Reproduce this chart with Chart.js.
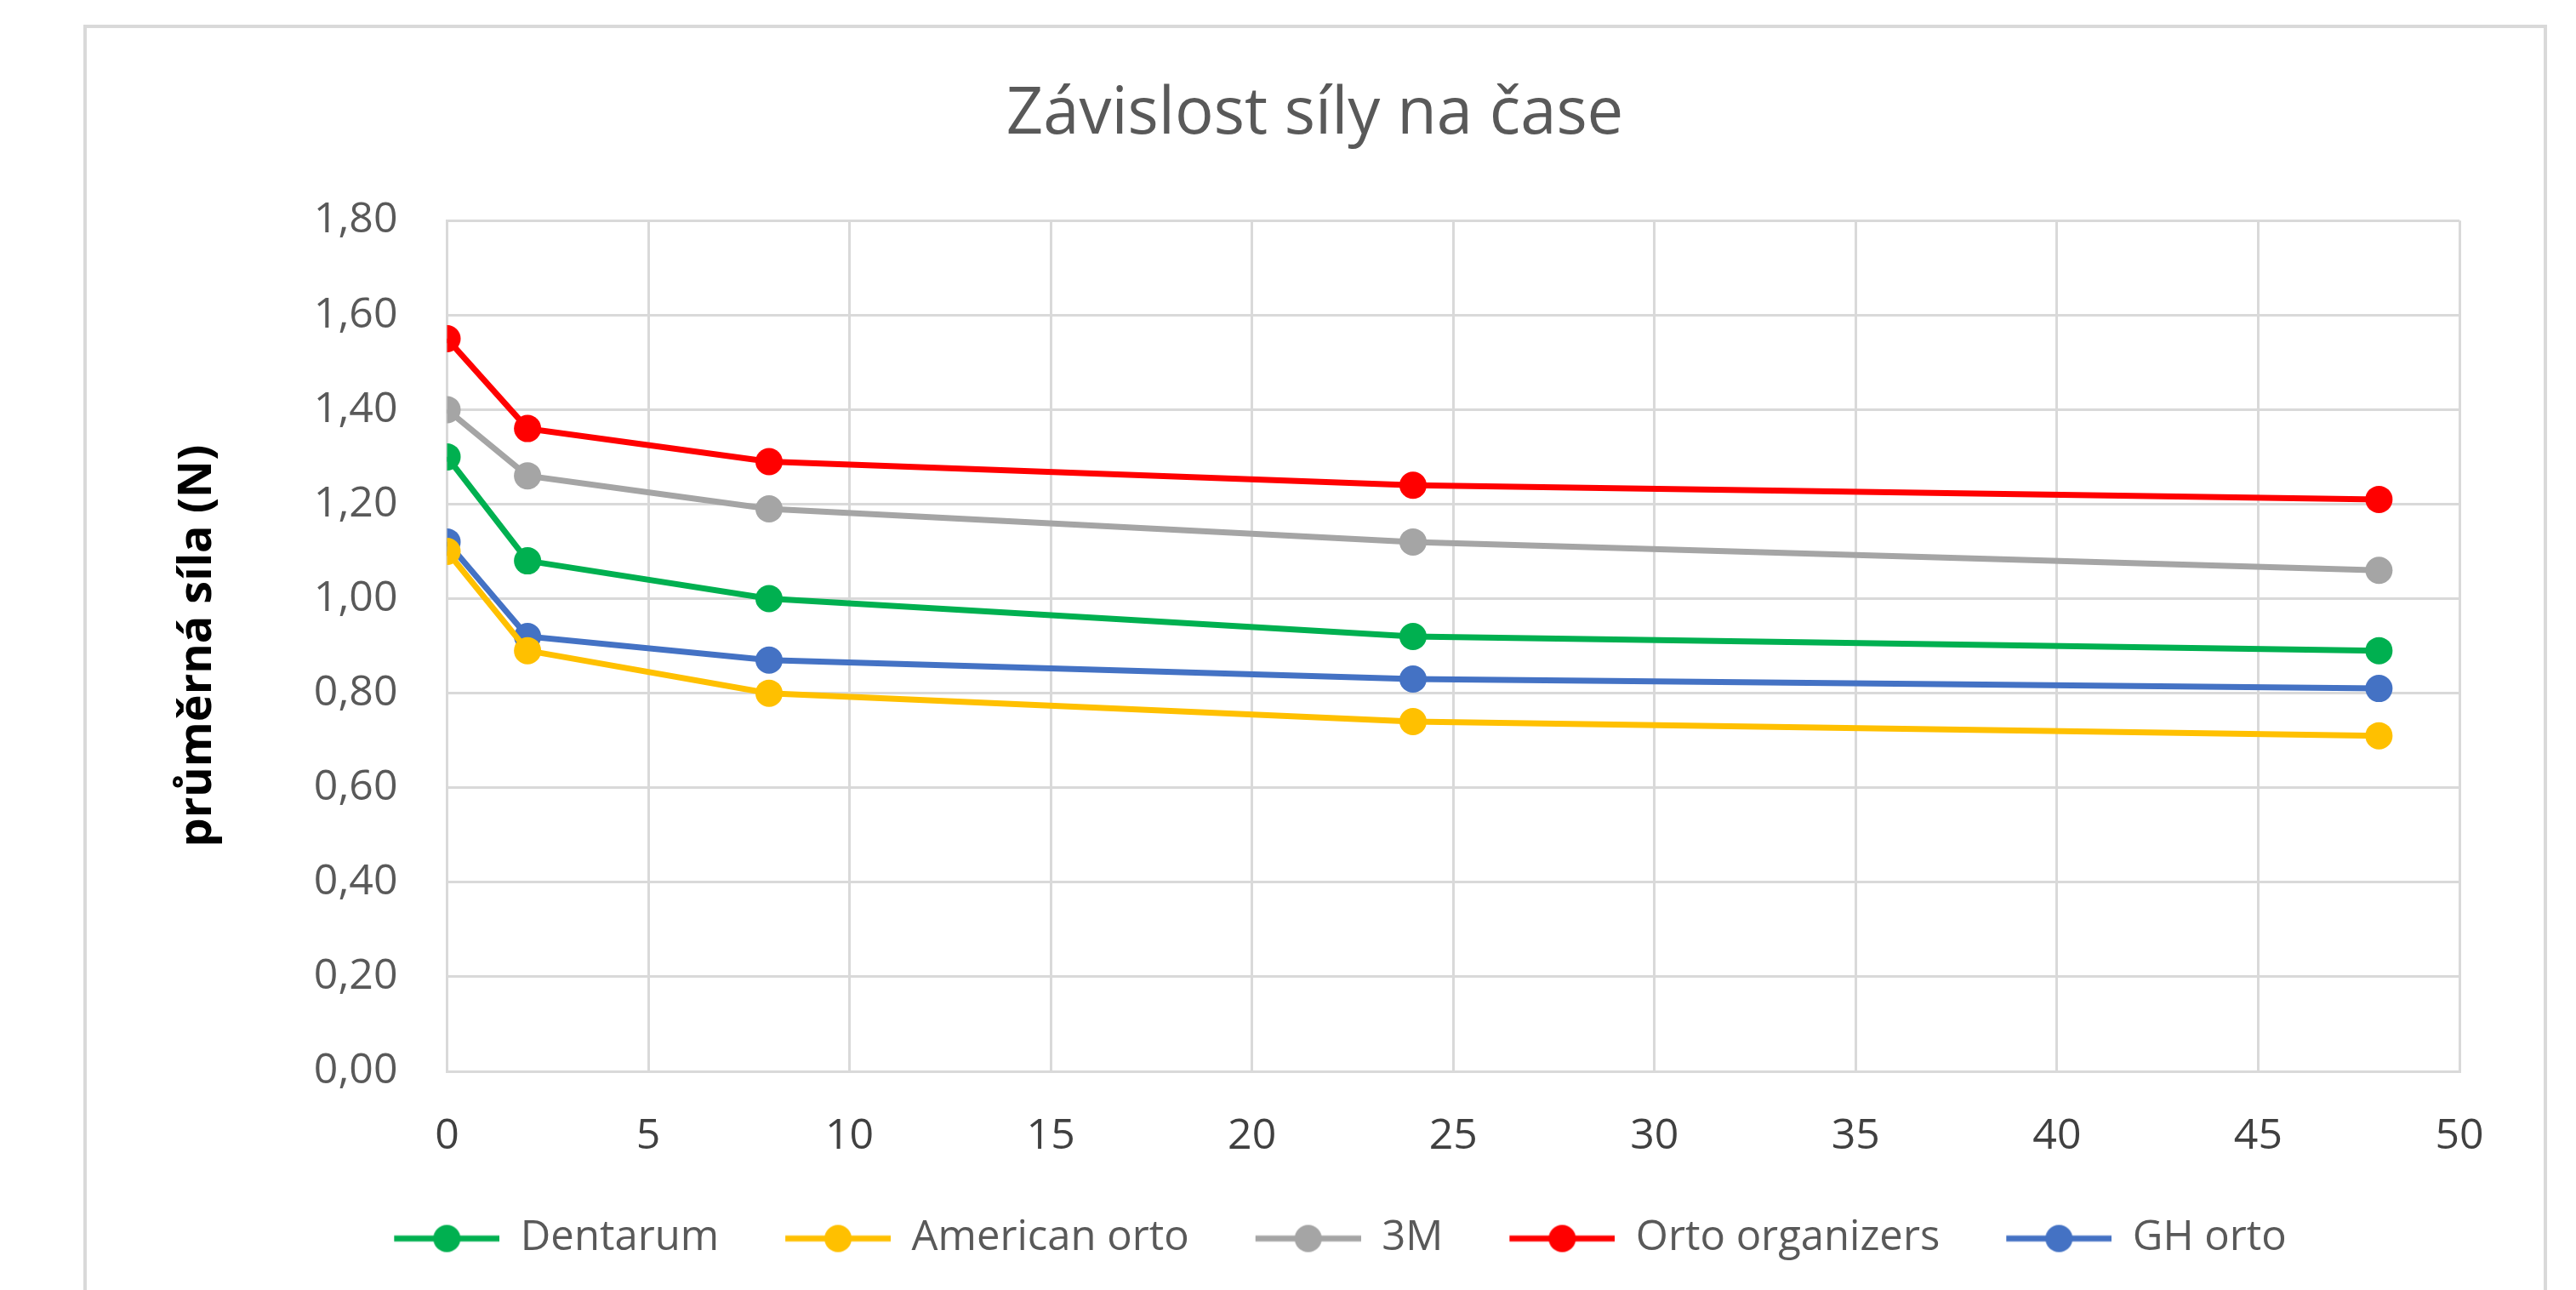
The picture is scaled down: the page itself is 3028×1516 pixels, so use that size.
<!DOCTYPE html>
<html>
<head>
<meta charset="utf-8">
<script src="https://cdn.jsdelivr.net/npm/chart.js@4/dist/chart.umd.min.js"></script>
<style>
  html, body { margin: 0; padding: 0; background: #fff; }
  #wrap { position: relative; width: 3028px; height: 1516px; overflow: hidden; }
  #frame { position: absolute; left: 98px; top: 29px; width: 2896px; height: 1600px;
           border: 4px solid #d9d9d9; box-sizing: border-box; }
  #c { position: absolute; left: 0; top: 0; }
</style>
</head>
<body>
<div id="wrap">
  <div id="frame"></div>
  <canvas id="c" width="3028" height="1516"></canvas>
</div>
<script>
// time (h)
const hours = [0, 2, 8, 24, 48];

const seriesNames = ['Dentarum', 'American orto', '3M', 'Orto organizers', 'GH orto'];
const seriesColors = ['#00b050', '#ffc000', '#a5a5a5', '#ff0000', '#4472c4'];

const dentarum = [1.30, 1.08, 1.00, 0.92, 0.89];
const americanOrto = [1.10, 0.89, 0.80, 0.74, 0.71];
const threeM = [1.40, 1.26, 1.19, 1.12, 1.06];
const ortoOrganizers = [1.55, 1.36, 1.29, 1.24, 1.21];
const ghOrto = [1.12, 0.92, 0.87, 0.83, 0.81];

const seriesValues = [dentarum, americanOrto, threeM, ortoOrganizers, ghOrto];

// legend marker: short line with a dot, like Excel
// the transparent strip on the left adds the gap between legend items
const markerLead = 60;
const markerLen = 124;
function legendMarker(color) {
    const cv = document.createElement('canvas');
    cv.width = markerLead + markerLen;
    cv.height = 36;
    const ctx = cv.getContext('2d');
    ctx.strokeStyle = color;
    ctx.lineWidth = 7;
    ctx.beginPath();
    ctx.moveTo(markerLead, 18);
    ctx.lineTo(markerLead + markerLen, 18);
    ctx.stroke();
    ctx.fillStyle = color;
    ctx.beginPath();
    ctx.arc(markerLead + markerLen / 2, 18, 16, 0, Math.PI * 2);
    ctx.fill();
    return cv;
}

const datasets = seriesNames.map((name, i) => ({
    label: name,
    data: hours.map((h, j) => ({ x: h, y: seriesValues[i][j] })),
    borderColor: seriesColors[i],
    backgroundColor: seriesColors[i],
    borderWidth: 7,
    pointRadius: 16,
    pointHoverRadius: 16,
    pointBorderWidth: 0,
    showLine: true,
    tension: 0
}));

const fmt = v => v.toFixed(2).replace('.', ',');

new Chart(document.getElementById('c'), {
    type: 'scatter',
    data: { datasets: datasets },
    options: {
        responsive: false,
        animation: false,
        layout: { padding: { left: 200, right: 137, top: 0, bottom: 26 } },
        plugins: {
            title: {
                display: true,
                text: 'Závislost síly na čase',
                color: '#595959',
                font: { family: 'Open Sans', size: 76, weight: 'normal' },
                padding: { top: 90, bottom: 78 }
            },
            legend: {
                display: true,
                position: 'bottom',
                labels: {
                    color: '#595959',
                    font: { family: 'Open Sans', size: 49 },
                    usePointStyle: true,
                    pointStyleWidth: markerLead + markerLen,
                    padding: 18,
                    generateLabels: chart => chart.data.datasets.map((ds, i) => ({
                        text: ds.label,
                        pointStyle: legendMarker(ds.borderColor),
                        fillStyle: ds.borderColor,
                        strokeStyle: ds.borderColor,
                        lineWidth: 0,
                        fontColor: '#595959',
                        datasetIndex: i,
                        hidden: false
                    }))
                }
            },
            tooltip: { enabled: false }
        },
        scales: {
            x: {
                type: 'linear',
                min: 0,
                max: 50,
                ticks: {
                    stepSize: 5,
                    color: '#404040',
                    font: { family: 'Open Sans', size: 50 },
                    padding: 47
                },
                grid: { color: '#d9d9d9', lineWidth: 3, drawTicks: false },
                border: { color: '#d9d9d9', width: 3 }
            },
            y: {
                min: 0,
                max: 1.8,
                ticks: {
                    stepSize: 0.2,
                    color: '#595959',
                    font: { family: 'Open Sans', size: 50 },
                    padding: 58,
                    callback: v => fmt(v)
                },
                grid: { color: '#d9d9d9', lineWidth: 3, drawTicks: false },
                border: { color: '#d9d9d9', width: 3 },
                title: {
                    display: true,
                    text: 'průměrná síla (N)',
                    color: '#000000',
                    font: { family: 'Open Sans', size: 54, weight: 'bold' },
                    padding: { top: 0, bottom: 46 }
                }
            }
        }
    }
});
</script>
</body>
</html>
